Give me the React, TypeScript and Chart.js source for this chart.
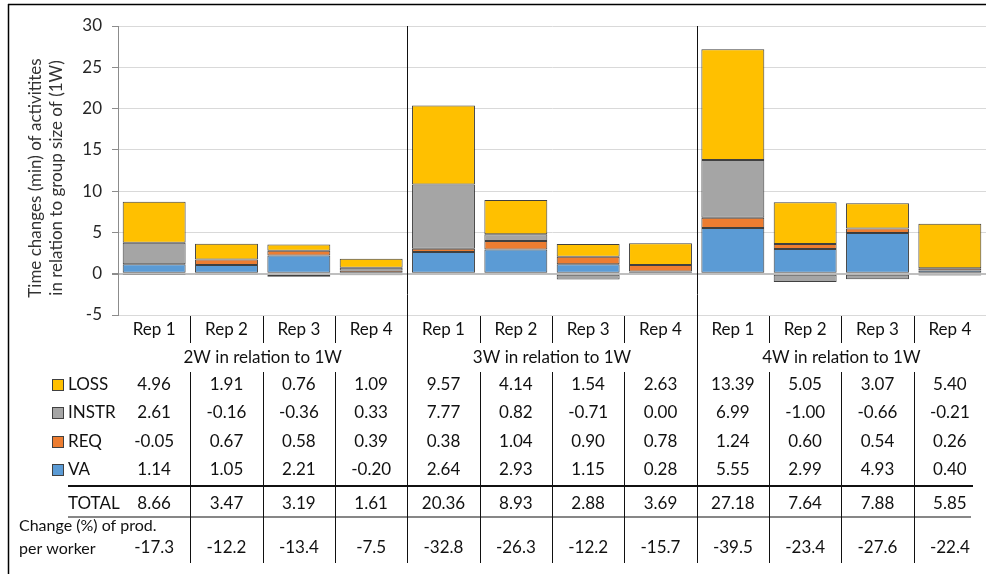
import React, { useEffect, useRef } from "react";
import { Chart, registerables } from "chart.js";

Chart.register(...registerables);

const categories = [
  "Rep 1", "Rep 2", "Rep 3", "Rep 4",
  "Rep 1", "Rep 2", "Rep 3", "Rep 4",
  "Rep 1", "Rep 2", "Rep 3", "Rep 4",
];
const groupLabels = ["2W in relation to 1W", "3W in relation to 1W", "4W in relation to 1W"];

const lossValues = [4.96, 1.91, 0.76, 1.09, 9.57, 4.14, 1.54, 2.63, 13.39, 5.05, 3.07, 5.4];
const instrValues = [2.61, -0.16, -0.36, 0.33, 7.77, 0.82, -0.71, 0.0, 6.99, -1.0, -0.66, -0.21];
const reqValues = [-0.05, 0.67, 0.58, 0.39, 0.38, 1.04, 0.9, 0.78, 1.24, 0.6, 0.54, 0.26];
const vaValues = [1.14, 1.05, 2.21, -0.2, 2.64, 2.93, 1.15, 0.28, 5.55, 2.99, 4.93, 0.4];
const totalValues = [8.66, 3.47, 3.19, 1.61, 20.36, 8.93, 2.88, 3.69, 27.18, 7.64, 7.88, 5.85];
const changeValues = [-17.3, -12.2, -13.4, -7.5, -32.8, -26.3, -12.2, -15.7, -39.5, -23.4, -27.6, -22.4];

const yMin = -5;
const yMax = 30;
const yStep = 5;

const yTitleLines = ["Time changes (min) of activitites", "in relation to group size of (1W)"];
const changeLabelLines = ["Change (%) of prod.", "per worker"];

const COLORS = {
  LOSS: "#FFC000",
  INSTR: "#A5A5A5",
  REQ: "#ED7D31",
  VA: "#5B9BD5",
};

const FONT = "Lato, 'Open Sans', sans-serif";
const TEXT = "#111111";

const seriesRows = [
  { name: "LOSS", values: lossValues, color: COLORS.LOSS },
  { name: "INSTR", values: instrValues, color: COLORS.INSTR },
  { name: "REQ", values: reqValues, color: COLORS.REQ },
  { name: "VA", values: vaValues, color: COLORS.VA },
];

const tablePlugin = {
  id: "tablePlugin",
  afterDraw(chart: any) {
    const ctx: CanvasRenderingContext2D = chart.ctx;
    const xs = chart.scales.x;
    const ca = chart.chartArea;
    const n = categories.length;
    const cx = (i: number) => xs.getPixelForValue(i);
    const boundary = (i: number) => (cx(i - 1) + cx(i)) / 2;

    ctx.save();

    // outer frame (top and left)
    ctx.strokeStyle = "#000";
    ctx.lineWidth = 1.5;
    ctx.beginPath();
    ctx.moveTo(8, 4.5);
    ctx.lineTo(986, 4.5);
    ctx.moveTo(8.5, 4);
    ctx.lineTo(8.5, 574);
    ctx.stroke();

    // y-axis title
    ctx.fillStyle = "#333333";
    ctx.font = `17px ${FONT}`;
    ctx.textAlign = "center";
    ctx.textBaseline = "middle";
    const titleX = [36, 57];
    yTitleLines.forEach((line, k) => {
      ctx.save();
      ctx.translate(titleX[k], 178);
      ctx.rotate(-Math.PI / 2);
      ctx.fillText(line, 0, 0);
      ctx.restore();
    });

    // vertical separators
    ctx.strokeStyle = "#111111";
    ctx.lineWidth = 1;
    for (let i = 1; i < n; i++) {
      const bx = Math.round(boundary(i)) + 0.5;
      ctx.beginPath();
      if (i % 4 === 0) {
        ctx.moveTo(bx, ca.top);
        ctx.lineTo(bx, 563);
      } else {
        ctx.moveTo(bx, 316);
        ctx.lineTo(bx, 343);
        ctx.moveTo(bx, 372);
        ctx.lineTo(bx, 563);
      }
      ctx.stroke();
    }

    // horizontal lines
    ctx.lineWidth = 2;
    ctx.beginPath();
    ctx.moveTo(68, 486);
    ctx.lineTo(973, 486);
    ctx.stroke();
    ctx.lineWidth = 1.2;
    ctx.beginPath();
    ctx.moveTo(68, 517);
    ctx.lineTo(971, 517);
    ctx.stroke();

    ctx.fillStyle = TEXT;
    ctx.font = `17px ${FONT}`;
    ctx.textAlign = "center";
    ctx.textBaseline = "middle";

    // Rep labels
    categories.forEach((c, i) => ctx.fillText(c, cx(i), 330));

    // group labels
    groupLabels.forEach((g, k) => {
      const mid = (cx(k * 4 + 1) + cx(k * 4 + 2)) / 2;
      ctx.fillText(g, mid, 358);
    });

    // series rows
    const rowY = [385, 413, 442, 470];
    seriesRows.forEach((row, r) => {
      const y = rowY[r];
      ctx.fillStyle = row.color;
      ctx.fillRect(52.5, y - 5.5, 11, 11);
      ctx.strokeStyle = "#404040";
      ctx.lineWidth = 1;
      ctx.strokeRect(52.5, y - 5.5, 11, 11);
      ctx.fillStyle = TEXT;
      ctx.textAlign = "left";
      ctx.fillText(row.name, 68, y);
      ctx.textAlign = "center";
      row.values.forEach((v, i) => ctx.fillText(v.toFixed(2), cx(i), y));
    });

    // total row
    ctx.textAlign = "left";
    ctx.fillText("TOTAL", 68, 504);
    ctx.textAlign = "center";
    totalValues.forEach((v, i) => ctx.fillText(v.toFixed(2), cx(i), 504));

    // change row
    ctx.textAlign = "left";
    ctx.font = `16px ${FONT}`;
    ctx.fillText(changeLabelLines[0], 19, 526);
    ctx.fillText(changeLabelLines[1], 19, 549);
    ctx.font = `17px ${FONT}`;
    ctx.textAlign = "center";
    changeValues.forEach((v, i) => ctx.fillText(v.toFixed(1), cx(i), 548));

    ctx.restore();
  },
};

export default function App() {
  const canvasRef = useRef<HTMLCanvasElement | null>(null);

  useEffect(() => {
    document.body.style.margin = "0";
    const canvas = canvasRef.current;
    if (!canvas) return;
    const mk = (label: string, data: number[], color: string) => ({
      label,
      data,
      backgroundColor: color,
      borderColor: "rgba(30,30,30,0.85)",
      borderWidth: 1,
      borderSkipped: false,
      barPercentage: 0.87,
      categoryPercentage: 1,
    });
    const chart = new Chart(canvas, {
      type: "bar",
      data: {
        labels: categories,
        datasets: [
          mk("VA", vaValues, COLORS.VA),
          mk("REQ", reqValues, COLORS.REQ),
          mk("INSTR", instrValues, COLORS.INSTR),
          mk("LOSS", lossValues, COLORS.LOSS),
        ],
      },
      options: {
        responsive: false,
        animation: false,
        maintainAspectRatio: false,
        layout: { padding: { left: 0, right: 0, top: 26, bottom: 259 } },
        plugins: {
          legend: { display: false },
          tooltip: { enabled: false },
          title: { display: false },
        },
        scales: {
          x: {
            display: false,
            stacked: true,
          },
          y: {
            stacked: true,
            min: yMin,
            max: yMax,
            afterFit: (scale: any) => {
              scale.width = 118;
            },
            ticks: {
              stepSize: yStep,
              color: "#262626",
              font: { family: FONT, size: 17 },
              padding: 10,
            },
            grid: {
              color: (c: any) => (c.tick && c.tick.value === 0 ? "#bfbfbf" : "#d9d9d9"),
              lineWidth: (c: any) => (c.tick && c.tick.value === 0 ? 2 : 1),
              tickColor: "#8c8c8c",
              tickLength: 6,
              drawTicks: true,
            },
            border: { display: true, color: "#8c8c8c", width: 1 },
          },
        },
      },
      plugins: [tablePlugin],
    });
    return () => chart.destroy();
  }, []);

  return (
    <div style={{ width: 986, height: 574, background: "#fff" }}>
      <canvas ref={canvasRef} width={986} height={574} style={{ display: "block" }} />
    </div>
  );
}
